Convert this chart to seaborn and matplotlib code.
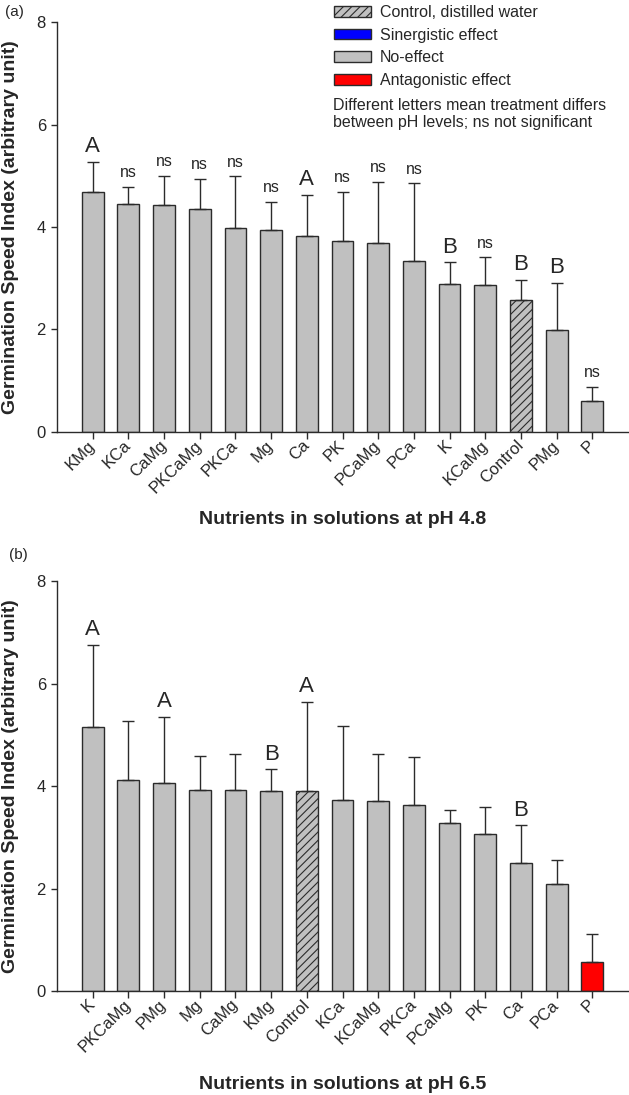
import numpy as np
import pandas as pd
import matplotlib
matplotlib.use("Agg")
import matplotlib.pyplot as plt
import seaborn as sns
from matplotlib.patches import Patch

# data
nutrients_a = ['KMg', 'KCa', 'CaMg', 'PKCaMg', 'PKCa', 'Mg', 'Ca', 'PK',
               'PCaMg', 'PCa', 'K', 'KCaMg', 'Control', 'PMg', 'P']
gsi_a = [4.69, 4.44, 4.42, 4.35, 3.98, 3.95, 3.83, 3.73,
         3.68, 3.34, 2.89, 2.86, 2.57, 1.99, 0.60]
err_a = [0.58, 0.35, 0.58, 0.59, 1.01, 0.54, 0.80, 0.96,
         1.20, 1.51, 0.42, 0.55, 0.40, 0.92, 0.28]
letters_a = ['A', 'ns', 'ns', 'ns', 'ns', 'ns', 'A', 'ns',
             'ns', 'ns', 'B', 'ns', 'B', 'B', 'ns']
effect_a = ['none'] * 12 + ['control', 'none', 'none']

nutrients_b = ['K', 'PKCaMg', 'PMg', 'Mg', 'CaMg', 'KMg', 'Control', 'KCa',
               'KCaMg', 'PKCa', 'PCaMg', 'PK', 'Ca', 'PCa', 'P']
gsi_b = [5.16, 4.12, 4.07, 3.92, 3.92, 3.90, 3.90, 3.73,
         3.71, 3.64, 3.29, 3.07, 2.50, 2.10, 0.57]
err_b = [1.60, 1.15, 1.28, 0.68, 0.72, 0.43, 1.75, 1.45,
         0.93, 0.93, 0.24, 0.53, 0.74, 0.47, 0.55]
letters_b = ['A', '', 'A', '', '', 'B', 'A', '',
             '', '', '', '', 'B', '', '']
effect_b = ['none'] * 6 + ['control'] + ['none'] * 7 + ['antagonistic']

effect_colors = {'none': '#c0c0c0', 'control': '#c0c0c0',
                 'synergistic': '#0000ff', 'antagonistic': '#ff0000'}
edge = '#2b2b2b'

sns.set_style('ticks')
plt.rcParams['font.family'] = ['Liberation Sans', 'DejaVu Sans']
plt.rcParams['hatch.linewidth'] = 0.8
plt.rcParams['hatch.color'] = edge

fig = plt.figure(figsize=(6.29, 10.95), dpi=100)
ax_a = fig.add_axes([0.0906, 0.6055, 0.9079, 0.3744])
ax_b = fig.add_axes([0.0906, 0.0947, 0.9079, 0.3744])


def draw_panel(ax, names, vals, errs, letters, effects, xlabel, label_y):
    df = pd.DataFrame({'nutrient': names, 'gsi': vals})
    pal = [effect_colors[e] for e in effects]
    sns.barplot(data=df, x='nutrient', y='gsi', hue='nutrient', palette=pal,
                legend=False, width=0.61, edgecolor=edge, linewidth=1.0,
                saturation=1, errorbar=None, ax=ax)
    for patch, e in zip(ax.patches, effects):
        if e == 'control':
            patch.set_hatch('////')
    pos = np.arange(len(names))
    ax.errorbar(pos, vals, yerr=[np.zeros(len(errs)), errs], fmt='none',
                ecolor=edge, elinewidth=1.0, capsize=4.2, capthick=1.0, zorder=1)
    for x, v, e, lab in zip(pos, vals, errs, letters):
        if not lab:
            continue
        fs = 11.5 if lab == 'ns' else 16
        ax.annotate(lab, (x, v + e), xytext=(0, 7), textcoords='offset points',
                    ha='center', va='baseline', fontsize=fs)
    ax.set_xlim(-1, 15)
    ax.set_ylim(0, 8)
    ax.set_yticks([0, 2, 4, 6, 8])
    sns.despine(ax=ax)
    for s in ['left', 'bottom']:
        ax.spines[s].set_color(edge)
        ax.spines[s].set_linewidth(1.0)
    ax.tick_params(axis='y', length=4, width=1, color=edge, labelsize=12, pad=4)
    ax.tick_params(axis='x', length=5, width=1, color=edge, labelsize=12, pad=3)
    plt.setp(ax.get_xticklabels(), rotation=45, ha='right', va='center',
             rotation_mode='anchor')
    ax.set_xlabel(xlabel, fontsize=14, fontweight='bold')
    ax.xaxis.set_label_coords(0.5, label_y)
    ax.set_ylabel('Germination Speed Index (arbitrary unit)', fontsize=14,
                  fontweight='bold')
    ax.yaxis.set_label_coords(-0.066, 0.5)


draw_panel(ax_a, nutrients_a, gsi_a, err_a, letters_a, effect_a,
           'Nutrients in solutions at pH 4.8', -0.192)
draw_panel(ax_b, nutrients_b, gsi_b, err_b, letters_b, effect_b,
           'Nutrients in solutions at pH 6.5', -0.207)

# legend for panel (a)
handles = [
    Patch(facecolor=effect_colors['control'], edgecolor=edge, hatch='////',
          label='Control, distilled water'),
    Patch(facecolor=effect_colors['synergistic'], edgecolor=edge,
          label='Sinergistic effect'),
    Patch(facecolor=effect_colors['none'], edgecolor=edge, label='No-effect'),
    Patch(facecolor=effect_colors['antagonistic'], edgecolor=edge,
          label='Antagonistic effect'),
]
fig.legend(handles=handles, loc='upper left',
           bbox_to_anchor=(334 / 629, 1 - 5 / 1095), frameon=False,
           fontsize=11.5, handlelength=2.3, handleheight=0.65,
           handletextpad=0.55, labelspacing=0.48, borderpad=0, borderaxespad=0)
fig.text(333 / 629, 1 - 114 / 1095,
         'Different letters mean treatment differs\nbetween pH levels; ns not significant',
         fontsize=11.5, ha='left', va='center', linespacing=1.2)

fig.text(0.008, 1 - 12 / 1095, '(a)', fontsize=11, va='center')
fig.text(0.015, 1 - 555 / 1095, '(b)', fontsize=11, va='center')

fig.savefig('out.png', dpi=100)
